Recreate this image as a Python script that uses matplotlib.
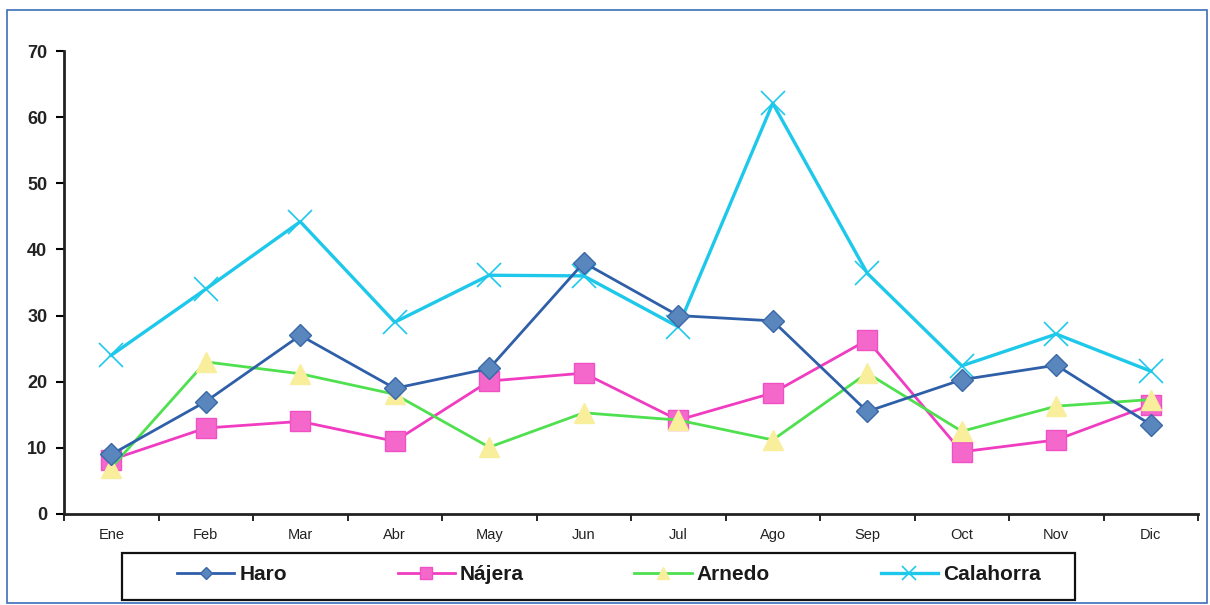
import matplotlib.pyplot as plt
from matplotlib.patches import Rectangle
from matplotlib.ticker import MultipleLocator, FixedLocator

plt.rcParams["font.family"] = ["Liberation Sans", "DejaVu Sans"]

meses = ["Ene", "Feb", "Mar", "Abr", "May", "Jun", "Jul", "Ago", "Sep", "Oct", "Nov", "Dic"]
haro = [9, 17, 27, 19, 22, 38, 30, 29.2, 15.5, 20.3, 22.5, 13.5]
najera = [8.2, 13, 14, 11, 20.1, 21.3, 14.2, 18.3, 26.3, 9.4, 11.2, 16.5]
arnedo = [7, 23, 21.2, 18.1, 10.1, 15.3, 14.2, 11.2, 21.3, 12.5, 16.3, 17.3]
calahorra = [24, 34, 44.2, 29, 36.1, 36, 28.3, 62.1, 36.4, 22.4, 27.2, 21.6]

W, H = 1210, 605
fig = plt.figure(figsize=(W / 100, H / 100), dpi=100)
ax = fig.add_axes([64 / W, 1 - 514 / H, (1198 - 64) / W, (514 - 51) / H])

x = list(range(len(meses)))
ax.plot(x, haro, color="#2E5FA8", lw=2, marker="D", ms=11,
        mfc="#5A86BE", mec="#3A68A8", label="Haro", zorder=4)
ax.plot(x, najera, color="#F03CC0", lw=2, marker="s", ms=15,
        mfc="#F468CC", mec="#F050C4", label="Nájera", zorder=3)
ax.plot(x, arnedo, color="#4EE04E", lw=2, marker="^", ms=14,
        mfc="#F8EE9C", mec="#F8EE9C", label="Arnedo", zorder=3)
ax.plot(x, calahorra, color="#1EC8EA", lw=2.4, marker="x", ms=17,
        mew=1.2, mec="#1EC8EA", label="Calahorra", zorder=2)

ax.set_xlim(-0.5, len(meses) - 0.5)
ax.set_ylim(0, 70)
ax.yaxis.set_major_locator(MultipleLocator(10))
ax.set_xticks(x)
ax.set_xticklabels(meses, fontsize=10.5, color="#222222")
ax.xaxis.set_minor_locator(FixedLocator([i - 0.5 for i in range(len(meses) + 1)]))
ax.tick_params(axis="x", which="major", length=0, pad=10)
ax.tick_params(axis="x", which="minor", length=5, width=1.2, direction="out")
ax.tick_params(axis="y", length=6, width=1.5, direction="out", pad=6)
for lab in ax.get_yticklabels():
    lab.set_fontsize(13)
    lab.set_fontweight("bold")
    lab.set_color("#222222")

for side in ("top", "right"):
    ax.spines[side].set_visible(False)
for side in ("left", "bottom"):
    ax.spines[side].set_linewidth(2)
    ax.spines[side].set_color("#222222")

# leyenda sin marco; el recuadro se dibuja aparte
leg = fig.legend(loc="center left", ncol=4,
                 bbox_to_anchor=(177 / W, 1 - 575 / H),
                 frameon=False, handlelength=2.75, handletextpad=0.25,
                 columnspacing=5.3, borderpad=0, borderaxespad=0,
                 prop={"weight": "bold", "size": 15}, markerscale=0.6)
for t in leg.get_texts():
    t.set_color("#1a1a1a")

fig.patches.append(Rectangle((122 / W, 1 - 600 / H), 953 / W, 47 / H,
                             transform=fig.transFigure, fill=False,
                             edgecolor="#111111", lw=1.6))
fig.patches.append(Rectangle((7 / W, 2 / H), 1200 / W, 593 / H,
                             transform=fig.transFigure, fill=False,
                             edgecolor="#3C6EB8", lw=1.2))

fig.savefig("out.png", dpi=100, facecolor="white")
